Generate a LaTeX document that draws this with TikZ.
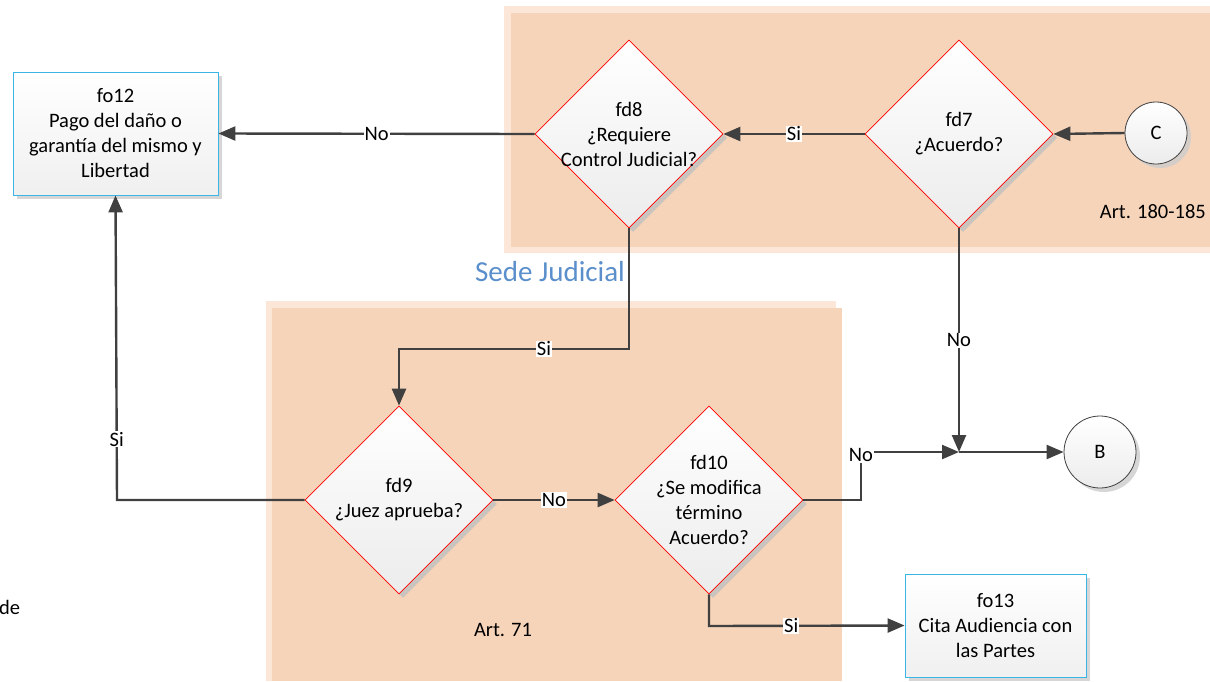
\documentclass[tikz,border=0pt]{standalone}
\usepackage{fontspec}
\setmainfont{Carlito}
\usetikzlibrary{shapes.geometric,arrows.meta,shadows}
\definecolor{peach}{HTML}{F6D4BA}
\definecolor{peachlight}{HTML}{FBE6D7}
\definecolor{linegray}{HTML}{404040}
\definecolor{boxblue}{HTML}{3BB4E6}
\definecolor{sedeblue}{HTML}{5B8FCB}
\tikzset{
  txt/.style={font=\fontsize{20.5}{25}\selectfont, align=center, inner sep=0pt},
  dia/.style={diamond, draw=red, line width=0.7pt, minimum width=188pt, minimum height=188pt, inner sep=0pt,
    top color=white, bottom color=gray!15,
    drop shadow={shadow xshift=4pt, shadow yshift=-4pt, fill=black!25, opacity=0.8}},
  procbox/.style={rectangle, draw=boxblue, line width=0.8pt, top color=white, bottom color=gray!12,
    drop shadow={shadow xshift=4pt, shadow yshift=-4pt, fill=black!20, opacity=0.8}},
  conn/.style={draw=linegray, line width=2.4pt, -{Triangle[length=17pt,width=14pt]}},
  lbl/.style={fill=white, inner sep=1pt, font=\fontsize{20.5}{25}\selectfont},
  term/.style={circle, draw=linegray, line width=0.8pt, top color=white, bottom color=gray!15,
    drop shadow={shadow xshift=4pt, shadow yshift=-4pt, fill=black!20, opacity=0.8}},
}
\begin{document}
\begin{tikzpicture}[x=1pt,y=-1pt]
\useasboundingbox (0,0) rectangle (1210,681);
% regions
\fill[peachlight] (504,6) rectangle (1210,253);
\fill[peach] (511,13) rectangle (1210,247);
\fill[peachlight] (266,301) rectangle (836,681);
\fill[peach] (272,308) rectangle (842,681);

\node[txt, anchor=east] (art180) at (1206,212) {Art. 180-185};
\node[txt] (art71) at (503,630) {Art. 71};
\node[font=\fontsize{29}{32}\selectfont, text=sedeblue, inner sep=0pt] (sede) at (550,272) {Sede Judicial};
\node[txt, anchor=west] (de) at (-1,607) {de};

% nodes
\node[procbox, minimum width=205pt, minimum height=123pt] (fo12) at (115.5,133.5) {};
\node[txt] at (fo12) {fo12\\Pago del daño o\\garantía del mismo y\\Libertad};
\node[dia] (fd8) at (629,134) {};
\node[txt] at (fd8) {fd8\\¿Requiere\\Control Judicial?};
\node[dia] (fd7) at (959,134) {};
\node[txt] at (fd7) {fd7\\¿Acuerdo?};
\node[term, minimum size=62pt] (C) at (1156,133) {};
\node[txt] at (C) {C};
\node[dia] (fd9) at (399,500) {};
\node[txt] at (fd9) {fd9\\¿Juez aprueba?};
\node[dia] (fd10) at (709,500) {};
\node[txt] at (fd10) {fd10\\¿Se modifica\\término\\Acuerdo?};
\node[term, minimum size=72pt] (B) at (1100,452) {};
\node[txt] at (B) {B};
\node[procbox, minimum width=181pt, minimum height=103pt] (fo13) at (995.5,625.5) {};
\node[txt] at (fo13) {fo13\\Cita Audiencia con\\las Partes};

\coordinate (J) at (959,452);
\coordinate (k1) at (629,349);
\coordinate (k2) at (399,349);
\coordinate (k3) at (117,500);
\coordinate (k4) at (861,500);
\coordinate (k5) at (861,452);
\coordinate (k6) at (709,626);

% connectors
\draw[conn] (C.west) -- (fd7.east);
\draw[conn] (fd7.west) -- node[lbl]{Si} (fd8.east);
\draw[conn] (fd8.west) -- node[lbl]{No} (fo12.east);
\draw[conn] (fd8.south) -- (k1) -- node[lbl, pos=0.37]{Si} (k2) -- (fd9.north);
\draw[conn] (fd9.west) -- (k3) -- node[lbl, pos=0.2]{Si} (fo12.south);
\draw[conn] (fd9.east) -- node[lbl, pos=0.5]{No} (fd10.west);
\draw[conn] (fd10.east) -- (k4) -- (k5) -- (J);
\node[lbl] (no10) at (861,455) {No};
\draw[conn] (fd7.south) -- node[lbl, pos=0.5]{No} (J);
\draw[conn] (J) -- (B.west);
\draw[conn] (fd10.south) -- (k6) -- node[lbl, pos=0.42]{Si} (fo13.west);
\end{tikzpicture}
\end{document}
